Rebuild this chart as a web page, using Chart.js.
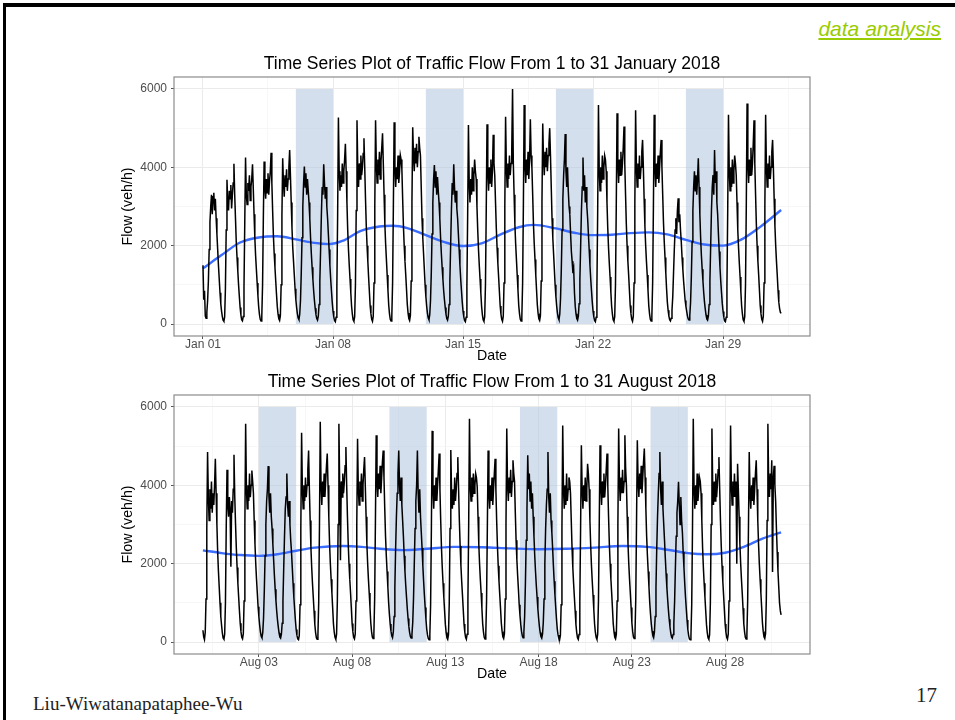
<!DOCTYPE html>
<html lang="en">
<head>
  <meta charset="UTF-8">
  <title>Traffic Flow Time Series</title>
  <script src="https://cdn.jsdelivr.net/npm/chart.js"></script>
  <style>
    body { margin: 0; background: #fff; font-family: "Liberation Sans", Arial, sans-serif; }
    .slide { position: relative; width: 955px; height: 720px; overflow: hidden; }
    .frame { position: absolute; left: 3px; top: 3px; right: -10px; bottom: -10px;
             border-top: 4px solid #000; border-left: 3px solid #000; }
    .section { position: absolute; right: 14px; top: 17px; font-size: 21px; font-style: italic;
               color: #99cc00; text-decoration: underline; }
    .footer { position: absolute; left: 33px; top: 693px; font-family: "Liberation Serif", "Times New Roman", serif;
              font-size: 19px; color: #222; }
    .pageno { position: absolute; left: 916px; top: 683px; font-family: "Liberation Serif", "Times New Roman", serif;
              font-size: 21px; color: #222; }
    .chart-box { position: absolute; left: 100px; width: 784px; height: 326px; }
  </style>
</head>
<body>
  <div class="slide">
    <div class="frame"></div>
    <div class="section">data analysis</div>

    <div class="chart-box" style="top: 40px;"><canvas id="janChart"></canvas></div>
    <div class="chart-box" style="top: 358px;"><canvas id="augChart"></canvas></div>

    <div class="footer">Liu-Wiwatanapataphee-Wu</div>
    <div class="pageno">17</div>
  </div>

  <script>
    // hourly flow (veh/h), one row per day, Jan 01 00:00 onwards
    const janFlow = [
      1500, 620, 850, 200, 150, 300, 600, 1100, 1900, 2600, 3000, 3300, 2800, 3250, 3350, 2900, 3200, 2700, 2300, 1900, 1500, 1150, 800, 520,
      330, 190, 100, 70, 180, 900, 2400, 3680, 3100, 2900, 3400, 3200, 3550, 2950, 3300, 3600, 4090, 3300, 2700, 2100, 1700, 1350, 1000, 700,
      420, 230, 110, 80, 190, 950, 2600, 4250, 3300, 3050, 3600, 3400, 3800, 3150, 3500, 3700, 4080, 3450, 2800, 2200, 1750, 1400, 1050, 720,
      430, 240, 120, 80, 200, 1000, 2700, 4150, 3500, 3200, 3700, 3350, 3850, 3300, 3650, 3900, 4370, 3600, 2900, 2250, 1800, 1450, 1100, 760,
      450, 250, 130, 90, 210, 1000, 2750, 4230, 3600, 3250, 3800, 3500, 3950, 3400, 3700, 4000, 4440, 3800, 3100, 2450, 1950, 1600, 1250, 900,
      620, 420, 260, 150, 110, 250, 600, 1300, 2200, 3000, 3600, 4020, 3500, 3850, 3300, 3700, 3400, 3100, 2700, 2200, 1800, 1450, 1150, 850,
      600, 400, 240, 140, 100, 200, 500, 1100, 1900, 2800, 3500, 3300, 4080, 3600, 3200, 3500, 3000, 2700, 2300, 1900, 1500, 1150, 850, 560,
      330, 180, 90, 60, 170, 950, 2800, 5270, 3900, 3400, 3800, 3500, 4100, 3600, 3900, 4200, 4600, 3900, 3100, 2400, 1900, 1500, 1150, 800,
      460, 250, 110, 70, 190, 1000, 2900, 5200, 4000, 3500, 4100, 3700, 4300, 3800, 4000, 4350, 4740, 4000, 3200, 2500, 2000, 1600, 1200, 830,
      470, 260, 120, 70, 200, 1050, 3000, 5200, 4100, 3600, 4200, 3800, 4400, 3700, 4150, 4500, 4870, 4100, 3300, 2550, 2050, 1650, 1250, 860,
      480, 260, 120, 80, 200, 1050, 3000, 5150, 4000, 3500, 4000, 3700, 4300, 3600, 3900, 4310, 4200, 3950, 3200, 2500, 2000, 1600, 1250, 880,
      500, 280, 140, 90, 220, 1100, 3100, 5020, 4300, 3900, 4500, 4100, 4600, 4000, 4400, 4780, 4500, 4300, 3500, 2700, 2200, 1800, 1400, 1000,
      700, 460, 280, 160, 110, 240, 600, 1300, 2300, 3100, 3700, 4060, 3500, 3900, 3300, 3750, 3400, 3100, 2700, 2200, 1800, 1450, 1150, 850,
      620, 420, 250, 140, 100, 200, 500, 1100, 2000, 2900, 3600, 3300, 4080, 3500, 3100, 3400, 2950, 2700, 2300, 1900, 1500, 1150, 850, 560,
      330, 180, 90, 60, 170, 950, 2800, 5080, 3600, 3100, 3700, 3300, 4000, 3400, 3800, 4200, 3900, 3700, 3000, 2400, 1900, 1500, 1150, 800,
      450, 240, 110, 70, 190, 1000, 2900, 5100, 3900, 3400, 4000, 3600, 4200, 3500, 3900, 4830, 4100, 3800, 3100, 2450, 1950, 1550, 1200, 830,
      460, 250, 120, 70, 200, 1050, 3000, 5290, 4000, 3500, 4100, 3700, 4300, 3800, 4100, 4500, 6000, 4100, 3300, 2550, 2050, 1650, 1250, 860,
      470, 260, 120, 80, 200, 1050, 3050, 5590, 4100, 3600, 4200, 3800, 4400, 3700, 4200, 5230, 4300, 4000, 3300, 2550, 2050, 1650, 1250, 870,
      490, 270, 130, 90, 210, 1100, 3100, 5120, 4200, 3800, 4400, 4000, 4500, 3900, 4300, 4600, 5000, 4300, 3500, 2700, 2200, 1800, 1400, 1000,
      700, 460, 280, 160, 110, 250, 650, 1400, 2400, 3200, 3800, 4200, 4850, 3900, 3500, 4000, 3400, 3000, 2800, 2300, 1850, 1600, 1300, 1400,
      800, 450, 260, 140, 100, 200, 520, 1150, 2000, 2900, 3500, 4250, 3400, 3800, 3100, 3500, 3000, 2700, 2300, 1900, 1500, 1150, 850, 560,
      330, 180, 90, 60, 170, 950, 2900, 5590, 3900, 3400, 4000, 3600, 4300, 3700, 4000, 4300, 4200, 3900, 3100, 2450, 1950, 1550, 1200, 820,
      460, 250, 110, 70, 190, 1000, 3000, 5380, 4100, 3600, 4200, 3800, 4400, 3800, 4100, 4500, 5040, 4100, 3300, 2550, 2000, 1600, 1250, 860,
      470, 260, 120, 70, 200, 1050, 3050, 5460, 4000, 3500, 4100, 3700, 4300, 3700, 4000, 4400, 4700, 4000, 3200, 2500, 2000, 1600, 1250, 860,
      470, 260, 120, 80, 200, 1050, 3000, 5340, 4000, 3500, 4100, 3700, 4300, 3600, 4000, 4400, 4700, 4000, 3300, 2600, 2100, 1700, 1300, 900,
      560, 350, 200, 110, 80, 150, 350, 700, 1300, 1900, 2400, 2700, 2300, 2900, 3210, 2600, 2800, 2400, 2100, 1700, 1400, 1100, 850, 600,
      450, 320, 200, 130, 100, 220, 550, 1200, 2100, 2900, 3500, 3900, 3400, 3800, 3300, 3700, 4230, 3500, 2800, 2200, 1750, 1400, 1100, 800,
      560, 380, 230, 130, 100, 200, 500, 1100, 2000, 2900, 3500, 3800, 3300, 4440, 3600, 3900, 3100, 2800, 2300, 1850, 1450, 1100, 800, 520,
      320, 170, 80, 60, 170, 950, 2900, 5340, 3900, 3400, 4000, 3500, 4200, 3600, 3900, 4300, 4100, 3800, 3100, 2400, 1950, 1550, 1200, 820,
      460, 250, 110, 70, 190, 1000, 3000, 5630, 4100, 3600, 4200, 3800, 4500, 3800, 4100, 4600, 5200, 4100, 3300, 2550, 2000, 1600, 1250, 860,
      470, 260, 120, 70, 200, 1050, 3000, 5340, 4000, 3500, 4100, 3700, 4300, 3700, 4000, 4400, 4700, 4000, 3200, 2500, 2000, 1600, 1250, 860,
      560, 400, 300, 270
    ];

    // hourly flow (veh/h), one row per day, starting the day before Aug 01 on the axis
    const augFlow = [
      300, 130, 60, 250, 1100, 2900, 4850, 3700, 3100, 3900, 3400, 4100, 3300, 3800, 3500, 4000, 4680, 3800, 3000, 2300, 1800, 1400, 1000, 650,
      430, 230, 100, 70, 200, 1000, 2900, 4400, 3500, 3200, 3700, 3400, 1920, 3600, 3300, 3900, 4780, 3700, 3000, 2400, 1900, 1500, 1150, 800,
      480, 260, 120, 80, 210, 1050, 3000, 5570, 3900, 3400, 4000, 3600, 4300, 3700, 4000, 4380, 4100, 3800, 3100, 2500, 2000, 1600, 1250, 900,
      650, 430, 260, 150, 110, 240, 600, 1300, 2200, 3000, 3600, 3900, 4490, 3700, 3300, 3800, 3200, 2900, 2500, 2100, 1700, 1350, 1050, 780,
      560, 380, 230, 130, 100, 200, 480, 1050, 1900, 2700, 3400, 3700, 4300, 3500, 3200, 3600, 3000, 2600, 2300, 1900, 1500, 1150, 850, 560,
      320, 170, 80, 60, 170, 950, 2900, 5340, 3900, 3400, 4000, 3600, 4200, 3700, 4000, 4400, 4890, 3900, 3100, 2400, 1900, 1500, 1150, 800,
      450, 240, 110, 70, 190, 1000, 3000, 5620, 4000, 3500, 4100, 3700, 4300, 3700, 4100, 4500, 4810, 4000, 3200, 2500, 2000, 1600, 1250, 860,
      460, 250, 120, 70, 200, 1050, 3000, 5570, 4000, 2090, 4100, 3700, 4300, 3800, 4100, 4500, 4980, 4000, 3200, 2500, 2000, 1600, 1250, 860,
      470, 260, 120, 80, 200, 1050, 3000, 5190, 3900, 3500, 4100, 3700, 4300, 3600, 4000, 4400, 4720, 3950, 3200, 2500, 2000, 1600, 1250, 880,
      490, 270, 130, 90, 210, 1100, 3100, 5280, 4100, 3700, 4300, 3900, 4500, 3800, 4200, 4600, 4890, 4200, 3400, 2700, 2200, 1800, 1400, 1000,
      700, 460, 280, 160, 110, 250, 650, 1400, 2400, 3200, 3800, 4300, 4890, 4000, 3600, 4200, 3500, 3100, 2700, 2200, 1800, 1450, 1150, 850,
      600, 400, 240, 140, 100, 200, 500, 1100, 2000, 2900, 3600, 4000, 4890, 3800, 3300, 3900, 3200, 2800, 2400, 1950, 1550, 1200, 880, 580,
      330, 180, 90, 60, 170, 950, 2900, 5390, 3900, 3400, 4000, 3600, 4200, 3600, 4000, 4400, 4810, 3900, 3100, 2400, 1900, 1500, 1150, 800,
      450, 240, 110, 70, 190, 1000, 2900, 4900, 3800, 3400, 3900, 3500, 4200, 3600, 3900, 4300, 4720, 3900, 3100, 2450, 1950, 1550, 1200, 830,
      460, 250, 120, 70, 200, 1050, 3000, 5700, 4000, 3600, 4200, 3700, 4300, 3800, 4000, 4300, 4200, 3950, 3200, 2500, 2000, 1600, 1250, 860,
      470, 260, 120, 80, 200, 1050, 2900, 4890, 3800, 3400, 4000, 3600, 4200, 3500, 3900, 4300, 4680, 3900, 3100, 2450, 1950, 1550, 1200, 850,
      480, 270, 130, 90, 210, 1100, 3000, 5450, 4000, 3600, 4200, 3800, 4400, 3700, 4100, 4640, 4300, 4100, 3300, 2600, 2100, 1700, 1350, 950,
      680, 450, 270, 160, 110, 250, 650, 1500, 2600, 3400, 4770, 3900, 4300, 3600, 4100, 3400, 3800, 3200, 2700, 2200, 1800, 1450, 1150, 850,
      600, 400, 240, 140, 100, 200, 500, 1100, 2000, 2900, 3500, 3900, 4850, 3700, 3300, 3800, 3100, 2800, 2400, 1950, 1550, 1200, 880, 580,
      330, 180, 90, 60, 170, 950, 2900, 5530, 3900, 3400, 4000, 3500, 4300, 3600, 3900, 4200, 4100, 3800, 3100, 2400, 1900, 1500, 1150, 800,
      450, 240, 110, 70, 190, 1000, 2900, 5020, 3900, 3400, 4000, 3600, 4200, 3600, 3900, 4550, 4300, 3900, 3100, 2450, 1950, 1550, 1200, 830,
      460, 250, 120, 70, 200, 1050, 3000, 5020, 4000, 3500, 4100, 3700, 4300, 3700, 4000, 4400, 4810, 4000, 3200, 2500, 2000, 1600, 1250, 860,
      470, 260, 120, 80, 200, 1050, 3000, 5450, 4100, 3600, 4200, 3800, 4400, 3800, 4100, 5280, 4400, 4000, 3200, 2500, 2000, 1600, 1250, 880,
      490, 270, 130, 90, 210, 1100, 3100, 5150, 4100, 3700, 4300, 3900, 4500, 3800, 4200, 4600, 4940, 4200, 3400, 2700, 2200, 1800, 1400, 1000,
      700, 460, 280, 160, 110, 250, 650, 1400, 2400, 3200, 3800, 4300, 4850, 3900, 3500, 4100, 3400, 3000, 2600, 2150, 1750, 1400, 1100, 820,
      580, 390, 230, 130, 100, 190, 480, 1050, 1900, 2700, 3300, 3600, 4090, 3500, 3000, 3700, 3100, 2800, 2300, 1900, 1500, 1150, 850, 560,
      320, 170, 80, 60, 170, 950, 2900, 5700, 3900, 3400, 4000, 3500, 4300, 3600, 3900, 4200, 4100, 3800, 3100, 2400, 1900, 1500, 1150, 800,
      450, 240, 110, 70, 190, 1000, 3000, 5450, 4000, 3500, 4100, 3600, 4300, 3700, 4000, 4400, 4720, 3900, 3100, 2450, 1950, 1550, 1200, 830,
      460, 250, 120, 70, 200, 1050, 3000, 5530, 4000, 3500, 4100, 3700, 4300, 3700, 4100, 2000, 4550, 3900, 3200, 2500, 2000, 1600, 1250, 860,
      470, 260, 120, 80, 200, 1050, 2900, 4850, 3800, 3400, 4000, 3600, 4200, 3500, 3900, 4300, 4640, 3900, 3100, 2500, 2000, 1600, 1250, 880,
      490, 270, 130, 90, 210, 1100, 3100, 5570, 4100, 3700, 4300, 3900, 4640, 1790, 4200, 4500, 4000, 3600, 2900, 2300, 1800, 1400, 1000, 800,
      690
    ];

    // loess trend: [day, flow]
    const janTrend = [[0, 1420], [1, 1760], [2, 2080], [3, 2210], [4, 2240], [5, 2160], [6, 2070], [6.8, 2040],
      [7.5, 2120], [8.5, 2380], [9.5, 2490], [10.2, 2510], [11, 2450], [12, 2270], [13, 2090], [14, 1990],
      [15, 2060], [16, 2280], [17, 2470], [17.8, 2530], [19, 2440], [20, 2330], [21, 2270], [22, 2280],
      [23, 2320], [24, 2340], [25, 2290], [26, 2150], [27, 2030], [28, 2000], [29, 2160], [30, 2480], [31.125, 2910]];
    const augTrend = [[-1, 2340], [0, 2270], [1, 2220], [2, 2200], [3, 2240], [4, 2330], [5, 2410], [6.5, 2450],
      [7.5, 2430], [8.5, 2380], [9.7, 2345], [11, 2380], [12.5, 2430], [14, 2420], [15.5, 2390], [17, 2370],
      [18.5, 2380], [20, 2410], [21.5, 2450], [22.8, 2430], [24, 2350], [25, 2270], [26, 2240], [27, 2280],
      [28, 2430], [29, 2640], [30, 2800]];

    // weekend bands [from day, to day]
    const janWeekends = [[5, 7], [12, 14], [19, 21], [26, 28]];
    const augWeekends = [[2, 4], [9, 11], [16, 18], [23, 25]];
    const shadeBand = [0, 6000];

    // axis ticks (day offsets) and labels
    const janTickDays = [0, 3.5, 7, 10.5, 14, 17.5, 21, 24.5, 28, 31.5];
    const janTickLabels = ['Jan 01', '', 'Jan 08', '', 'Jan 15', '', 'Jan 22', '', 'Jan 29', ''];
    const augTickDays = [-0.5, 2, 4.5, 7, 9.5, 12, 14.5, 17, 19.5, 22, 24.5, 27, 29.5];
    const augTickLabels = ['', 'Aug 03', '', 'Aug 08', '', 'Aug 13', '', 'Aug 18', '', 'Aug 23', '', 'Aug 28', ''];
    const flowTicks = [0, 1000, 2000, 3000, 4000, 5000, 6000];
    const flowTickLabels = ['0', '', '2000', '', '4000', '', '6000'];

    Chart.defaults.font.family = '"Liberation Sans", Arial, sans-serif';
    Chart.defaults.color = '#4d4d4d';

    // weekend shading under the series, panel border on top
    const panelPlugin = {
      id: 'panel',
      beforeDatasetsDraw(chart, args, opts) {
        const { ctx, scales: { x, y } } = chart;
        ctx.save();
        ctx.fillStyle = 'rgba(176, 196, 222, 0.55)';
        const yTop = y.getPixelForValue(shadeBand[1]);
        const yBot = y.getPixelForValue(shadeBand[0]);
        opts.bands.forEach(([a, b]) => {
          const x0 = x.getPixelForValue(a);
          const x1 = x.getPixelForValue(b);
          ctx.fillRect(x0, yTop, x1 - x0, yBot - yTop);
        });
        ctx.restore();
      },
      afterDatasetsDraw(chart) {
        const { ctx, chartArea: a } = chart;
        ctx.save();
        ctx.strokeStyle = '#8c8c8c';
        ctx.lineWidth = 1.2;
        ctx.strokeRect(a.left, a.top, a.right - a.left, a.bottom - a.top);
        ctx.restore();
      }
    };

    function makeChart(id, title, flow, startDay, trend, bands, tickDays, tickLabels, xMin, xMax) {
      const series = flow.map((v, i) => ({ x: startDay + i / 24, y: v }));
      const trendPts = trend.map(([d, v]) => ({ x: d, y: v }));
      const isMajor = (list, v) => list.includes(v);
      const majorX = tickDays.filter((d, i) => tickLabels[i] !== '');
      const majorY = flowTicks.filter((d, i) => flowTickLabels[i] !== '');

      return new Chart(document.getElementById(id), {
        type: 'line',
        data: {
          datasets: [
            { data: series, borderColor: '#000', borderWidth: 1.5, pointRadius: 0, tension: 0 },
            { data: trendPts, borderColor: '#3a6cff', borderWidth: 2.4, pointRadius: 0, cubicInterpolationMode: 'monotone' }
          ]
        },
        options: {
          responsive: true,
          maintainAspectRatio: false,
          animation: false,
          layout: { padding: 0 },
          plugins: {
            legend: { display: false },
            tooltip: { enabled: false },
            title: {
              display: true, text: title, color: '#000',
              font: { size: 17.5, weight: 'normal' },
              padding: { top: 13.5, bottom: 2.5 }
            },
            panel: { bands: bands }
          },
          scales: {
            x: {
              type: 'linear', min: xMin, max: xMax,
              afterBuildTicks: axis => { axis.ticks = tickDays.map(v => ({ value: v })); },
              afterFit: axis => { axis.height = 30; },
              ticks: {
                autoSkip: false, maxRotation: 0, padding: 0,
                font: { size: 12, lineHeight: 1 }, color: '#4d4d4d',
                callback: (v, i) => tickLabels[i]
              },
              grid: {
                color: c => isMajor(majorX, c.tick.value) ? '#ebebeb' : '#f4f4f4',
                lineWidth: c => isMajor(majorX, c.tick.value) ? 1 : 0.7,
                tickColor: c => isMajor(majorX, c.tick.value) ? '#555' : 'rgba(0,0,0,0)',
                tickLength: 3, tickWidth: 1
              },
              border: { display: false },
              title: { display: true, text: 'Date', color: '#000', font: { size: 14.2 }, padding: { top: 0, bottom: 1.5 } }
            },
            y: {
              min: -306, max: 6306,
              afterBuildTicks: axis => { axis.ticks = flowTicks.map(v => ({ value: v })); },
              afterFit: axis => { axis.width = 74; },
              ticks: {
                autoSkip: false, padding: 4,
                font: { size: 12 }, color: '#4d4d4d',
                callback: (v, i) => flowTickLabels[i]
              },
              grid: {
                color: c => isMajor(majorY, c.tick.value) ? '#ebebeb' : '#f4f4f4',
                lineWidth: c => isMajor(majorY, c.tick.value) ? 1 : 0.7,
                tickColor: c => isMajor(majorY, c.tick.value) ? '#555' : 'rgba(0,0,0,0)',
                tickLength: 3, tickWidth: 1
              },
              border: { display: false },
              title: { display: true, text: 'Flow (veh/h)', color: '#000', font: { size: 14.2 }, padding: { top: 19.5, bottom: 0 } }
            },
            // keeps the panel centred under the title
            yr: {
              position: 'right', display: true,
              afterFit: axis => { axis.width = 74; },
              ticks: { display: false },
              grid: { display: false, drawTicks: false },
              border: { display: false }
            }
          }
        },
        plugins: [panelPlugin]
      });
    }

    makeChart('janChart', 'Time Series Plot of Traffic Flow From 1 to 31 January 2018',
      janFlow, 0, janTrend, janWeekends, janTickDays, janTickLabels, -1.56, 32.68);
    makeChart('augChart', 'Time Series Plot of Traffic Flow From 1 to 31 August 2018',
      augFlow, -1, augTrend, augWeekends, augTickDays, augTickLabels, -2.55, 31.55);
  </script>
</body>
</html>
